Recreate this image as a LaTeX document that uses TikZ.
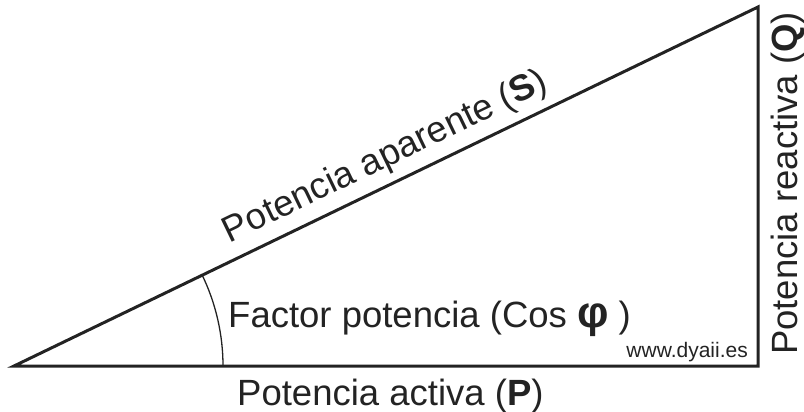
\documentclass[tikz,border=0pt]{standalone}
\usepackage{fontspec}
\setmainfont{Liberation Sans}
\definecolor{ink}{RGB}{35,35,35}
\tikzset{
  lbl/.style={font=\fontsize{36.5}{42}\selectfont, text=ink, inner sep=0pt},
  small/.style={font=\fontsize{21}{25}\selectfont, text=ink, inner sep=0pt}
}
\begin{document}
\begin{tikzpicture}[x=1pt,y=1pt,yscale=-1,xscale=1]
\useasboundingbox (0,0) rectangle (804,412);
\coordinate (A) at (14,366);
\coordinate (B) at (758,366);
\coordinate (C) at (758,7);
\draw [color=ink, line width=3, line join=miter] (A) -- (B) -- (C) -- cycle;
\draw [color=ink, line width=1.3] ([xshift=209pt]A) arc [start angle=0, end angle=-25.76, radius=209];
\path (A) -- (C) node (S) [lbl, pos=0.515, rotate=25.76, anchor=south, inner sep=9pt] {Potencia aparente (\textbf{S})};
\node (P) [lbl, anchor=base west] at (237,405) {Potencia activa (\textbf{P})};
\node (fp) [lbl, anchor=base west] at (228,327) {Factor potencia (Cos {\fontsize{44}{44}\selectfont\textbf{φ}} )};
\node (web) [small, anchor=base east] at (748,357) {www.dyaii.es};
\node (Q) [lbl, rotate=90, anchor=base west] at (797,355) {Potencia reactiva (\textbf{Q})};
\end{tikzpicture}
\end{document}
